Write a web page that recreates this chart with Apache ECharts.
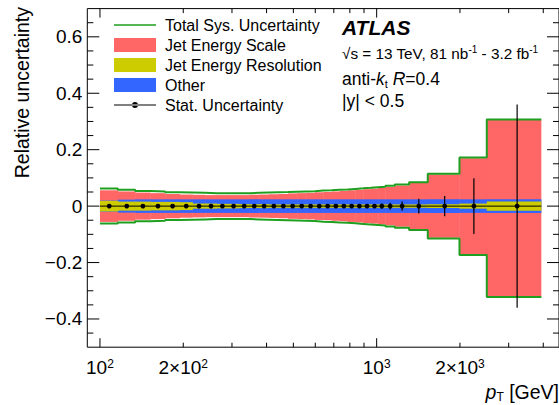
<!DOCTYPE html>
<html><head><meta charset="utf-8">
<script src="https://cdn.jsdelivr.net/npm/echarts@6/dist/echarts.min.js"></script>
<style>html,body{margin:0;padding:0;background:#fff}#c{width:559px;height:405px}</style>
</head><body><div id="c"></div>
<script>
// ---- data ----
const binEdges = [100,116,134,152,172,194,216,240,264,290,318,346,376,408,442,478,516,556,598,642,688,736,786,838,894,952,1012,1076,1162,1310,1530,1992,2500,3937];
const totalUp   = [0.062,0.058,0.054,0.052,0.049,0.048,0.047,0.046,0.046,0.046,0.046,0.047,0.048,0.049,0.050,0.051,0.052,0.053,0.055,0.056,0.058,0.059,0.061,0.063,0.065,0.067,0.069,0.072,0.077,0.085,0.115,0.172,0.307];
const totalDown = [0.062,0.058,0.054,0.052,0.049,0.048,0.047,0.046,0.046,0.046,0.046,0.047,0.048,0.049,0.050,0.051,0.052,0.053,0.055,0.056,0.058,0.059,0.061,0.063,0.065,0.067,0.069,0.072,0.077,0.085,0.115,0.173,0.322];
const jesUp     = [0.056,0.052,0.048,0.046,0.043,0.041,0.040,0.039,0.039,0.039,0.039,0.040,0.041,0.042,0.043,0.045,0.046,0.047,0.049,0.050,0.052,0.054,0.056,0.058,0.060,0.062,0.065,0.068,0.073,0.082,0.112,0.170,0.306];
const jesDown   = [0.056,0.052,0.048,0.046,0.043,0.041,0.040,0.039,0.039,0.039,0.039,0.040,0.041,0.042,0.043,0.045,0.046,0.047,0.049,0.050,0.052,0.054,0.056,0.058,0.060,0.062,0.065,0.068,0.073,0.082,0.112,0.171,0.321];
const jerUnc    = [0.019,0.016,0.016,0.015,0.015,0.014,0.009,0.009,0.008,0.008,0.007,0.007,0.007,0.006,0.006,0.006,0.006,0.006,0.006,0.006,0.006,0.006,0.006,0.006,0.006,0.006,0.006,0.006,0.006,0.006,0.007,0.009,0.016];
const otherUnc  = [0.020,0.023,0.024,0.024,0.024,0.024,0.024,0.024,0.024,0.024,0.024,0.024,0.024,0.024,0.024,0.024,0.024,0.024,0.024,0.024,0.024,0.024,0.024,0.024,0.024,0.024,0.024,0.024,0.024,0.024,0.024,0.024,0.024];
const statUnc   = [0.002,0.002,0.002,0.002,0.002,0.002,0.002,0.002,0.002,0.002,0.002,0.002,0.002,0.002,0.002,0.002,0.002,0.002,0.002,0.002,0.003,0.003,0.004,0.004,0.005,0.007,0.009,0.012,0.016,0.026,0.036,0.099,0.360];

const xMajorTicks = [100, 1000];
const xMinorTicks = [200,300,400,500,600,700,800,900,2000,3000,4000];
const yMajorTicks = [-0.4,-0.2,0,0.2,0.4,0.6];
const yMinorTicks = [-0.45,-0.35,-0.3,-0.25,-0.15,-0.1,-0.05,0.05,0.1,0.15,0.25,0.3,0.35,0.45,0.5,0.55,0.65];
const xTickLabelValues = [100, 200, 1000, 2000];
const xTickLabelTexts = ['{n|10}{s|2}', '{n|2\u00d710}{s|2}', '{n|10}{s|3}', '{n|2\u00d710}{s|3}'];

// ---- setup ----
const FONT = '"Liberation Sans", Arial, Helvetica, sans-serif';
const X_MIN = 90, X_MAX = 4560, Y_MIN = -0.5, Y_MAX = 0.7;
const nBins = binEdges.length - 1;
const COL_JES = '#ff6666', COL_JER = '#cccc00', COL_OTHER = '#3366ff', COL_TOT = '#1f9f1f';

const binRows = (up, dn) => binEdges.slice(0, -1).map((lo, i) => [lo, binEdges[i + 1], up[i], dn[i]]);
const stepData = (vals, sign) => binEdges.map((e, i) => [e, sign * vals[Math.min(i, nBins - 1)]]);

function bandRenderer(color) {
  return function (params, api) {
    const lo = api.value(0), hi = api.value(1), up = api.value(2), dn = api.value(3);
    const a = api.coord([lo, up]), b = api.coord([hi, -dn]);
    const last = params.dataIndex === nBins - 1;
    return { type: 'rect', shape: { x: a[0], y: a[1], width: b[0] - a[0] + (last ? 0 : 0.4), height: b[1] - a[1] },
             style: { fill: color } };
  };
}

function statRenderer(params, api) {
  const lo = api.value(0), hi = api.value(1), s = api.value(2);
  const c = (lo + hi) / 2;
  const pl = api.coord([lo, 0]), ph = api.coord([hi, 0]), pc = api.coord([c, 0]);
  const pt = api.coord([c, s]), pb = api.coord([c, -s]);
  return { type: 'group', children: [
    { type: 'line', shape: { x1: pl[0], y1: pl[1], x2: ph[0], y2: ph[1] }, style: { stroke: '#000', lineWidth: 1 } },
    { type: 'line', shape: { x1: pt[0], y1: pt[1], x2: pb[0], y2: pb[1] }, style: { stroke: '#000', lineWidth: 1.2 } },
    { type: 'circle', shape: { cx: pc[0], cy: pc[1], r: 2.4 }, style: { fill: '#000' } }
  ] };
}

function tickRenderer(params, api) {
  const tl = api.coord([X_MIN, Y_MAX]), br = api.coord([X_MAX, Y_MIN]);
  const L = tl[0], T = tl[1], R = br[0], B = br[1];
  const kids = [];
  const ln = (x1, y1, x2, y2) => kids.push({ type: 'line', shape: { x1, y1, x2, y2 }, style: { stroke: '#000', lineWidth: 1 } });
  xMajorTicks.forEach(v => { const x = api.coord([v, 0])[0]; ln(x, B, x, B - 9); ln(x, T, x, T + 9); });
  xMinorTicks.forEach(v => { const x = api.coord([v, 0])[0]; ln(x, B, x, B - 4.5); ln(x, T, x, T + 4.5); });
  yMajorTicks.forEach(v => { const y = api.coord([X_MIN, v])[1]; ln(L, y, L + 12, y); ln(R, y, R - 12, y); });
  yMinorTicks.forEach(v => { const y = api.coord([X_MIN, v])[1]; ln(L, y, L + 6, y); ln(R, y, R - 6, y); });
  xTickLabelValues.forEach((v, i) => {
    const x = api.coord([v, 0])[0];
    kids.push({ type: 'text', x: x, y: B + 20.5, style: {
      text: xTickLabelTexts[i], align: 'center', verticalAlign: 'middle', fill: '#000',
      rich: { n: { fontSize: 19, fontFamily: FONT, lineHeight: 20, fill: '#000' },
              s: { fontSize: 12, fontFamily: FONT, lineHeight: 11, verticalAlign: 'top', fill: '#000' } } } });
  });
  return { type: 'group', children: kids };
}

const chart = echarts.init(document.getElementById('c'), null, { renderer: 'svg', width: 559, height: 405 });

const option = {
  animation: false,
  backgroundColor: '#fff',
  grid: { left: 87.3, right: -1, top: 8.6, bottom: 57.8, show: true, borderColor: '#000', borderWidth: 1, backgroundColor: 'transparent' },
  xAxis: { type: 'log', logBase: 10, min: X_MIN, max: X_MAX,
    axisLine: { show: false }, axisTick: { show: false }, axisLabel: { show: false }, splitLine: { show: false } },
  yAxis: { type: 'value', min: Y_MIN, max: Y_MAX, interval: 0.1,
    axisLine: { show: false }, axisTick: { show: false }, splitLine: { show: false },
    axisLabel: { interval: 0, margin: 5, color: '#000', fontSize: 19, fontFamily: FONT,
      formatter: v => { const r = Math.round(v * 10); if (r % 2 !== 0) return ''; if (r === 0) return '0';
        return (r < 0 ? '\u2212' : '') + (Math.abs(r) / 10).toFixed(1); } } },
  legend: {
    left: 114, top: 17, orient: 'vertical', itemWidth: 42, itemHeight: 14, itemGap: 4, padding: 0,
    selectedMode: false, itemStyle: { borderWidth: 0 },
    textStyle: { fontFamily: FONT, fontSize: 16, color: '#000', lineHeight: 14, padding: [0, 0, 0, 4] },
    data: [
      { name: 'Total Sys. Uncertainty', icon: 'path://M0,0h0.01v0.01zM0,6.2h42v1.6h-42zM42,14h-0.01v-0.01z' },
      { name: 'Jet Energy Scale', icon: 'rect' },
      { name: 'Jet Energy Resolution', icon: 'rect' },
      { name: 'Other', icon: 'rect' },
      { name: 'Stat. Uncertainty', icon: 'path://M0,0h0.01v0.01zM0,6.5h42v1h-42zM18,7a3,3 0 1,0 6,0a3,3 0 1,0 -6,0zM42,14h-0.01v-0.01z' }
    ]
  },
  graphic: [
    { type: 'text', x: 342, y: 27, style: { text: 'ATLAS', font: 'italic bold 21px ' + FONT, fill: '#000', verticalAlign: 'middle' } },
    { type: 'text', x: 342, y: 53, style: { text: '{t|\u221As = 13 TeV, 81 nb}{s|-1}{t| - 3.2 fb}{s|-1}', verticalAlign: 'middle', fill: '#000',
      rich: { t: { fontSize: 15.3, fontFamily: FONT, lineHeight: 18, fill: '#000' },
              s: { fontSize: 10, fontFamily: FONT, lineHeight: 10, verticalAlign: 'top', fill: '#000' } } } },
    { type: 'text', x: 342, y: 79, style: { text: '{t|anti-}{i|k}{b|t}{t| }{i|R}{t|=0.4}', verticalAlign: 'middle', fill: '#000',
      rich: { t: { fontSize: 17.5, fontFamily: FONT, lineHeight: 21, fill: '#000' },
              i: { fontSize: 17.5, fontFamily: FONT, fontStyle: 'italic', lineHeight: 21, fill: '#000' },
              b: { fontSize: 11, fontFamily: FONT, lineHeight: 11, verticalAlign: 'bottom', fill: '#000' } } } },
    { type: 'text', x: 342, y: 101, style: { text: '|y| < 0.5', font: '17.5px ' + FONT, fill: '#000', verticalAlign: 'middle' } },
    { type: 'text', x: 559, y: 392, style: { text: '{i|p}{b|T}{t| [GeV]}', align: 'right', verticalAlign: 'middle', fill: '#000',
      rich: { i: { fontSize: 19.5, fontFamily: FONT, fontStyle: 'italic', lineHeight: 22, fill: '#000' },
              b: { fontSize: 12, fontFamily: FONT, lineHeight: 12, verticalAlign: 'bottom', fill: '#000' },
              t: { fontSize: 19.5, fontFamily: FONT, lineHeight: 22, fill: '#000' } } } },
    { type: 'text', x: 22, y: 7, rotation: Math.PI / 2, style: { text: 'Relative uncertainty', font: '19.5px ' + FONT, fill: '#000', align: 'right', verticalAlign: 'middle' } }
  ],
  series: [
    { name: 'Jet Energy Scale', type: 'custom', renderItem: bandRenderer(COL_JES), data: binRows(jesUp, jesDown),
      encode: { x: [0, 1], y: [2, 3] }, itemStyle: { color: COL_JES }, z: 1, silent: true },
    { name: 'Other', type: 'custom', renderItem: bandRenderer(COL_OTHER), data: binRows(otherUnc, otherUnc),
      encode: { x: [0, 1], y: [2, 3] }, itemStyle: { color: COL_OTHER }, z: 2, silent: true },
    { name: 'Jet Energy Resolution', type: 'custom', renderItem: bandRenderer(COL_JER), data: binRows(jerUnc, jerUnc),
      encode: { x: [0, 1], y: [2, 3] }, itemStyle: { color: COL_JER }, z: 3, silent: true },
    { name: 'Total Sys. Uncertainty', type: 'line', step: 'end', symbol: 'none', data: stepData(totalUp, 1),
      color: COL_TOT, lineStyle: { color: COL_TOT, width: 2 }, z: 4, silent: true },
    { name: 'Total Sys. Uncertainty', type: 'line', step: 'end', symbol: 'none', data: stepData(totalDown, -1),
      color: COL_TOT, lineStyle: { color: COL_TOT, width: 2 }, z: 4, silent: true },
    { name: 'Stat. Uncertainty', type: 'custom', renderItem: statRenderer,
      data: binEdges.slice(0, -1).map((lo, i) => [lo, binEdges[i + 1], statUnc[i]]),
      encode: { x: [0, 1], y: 2 }, itemStyle: { color: '#000' }, z: 5, silent: true },
    { name: 'axes', type: 'custom', renderItem: tickRenderer, data: [[X_MIN, Y_MIN]],
      encode: { x: 0, y: 1 }, z: 6, silent: true }
  ]
};
chart.setOption(option);
</script>
</body></html>
